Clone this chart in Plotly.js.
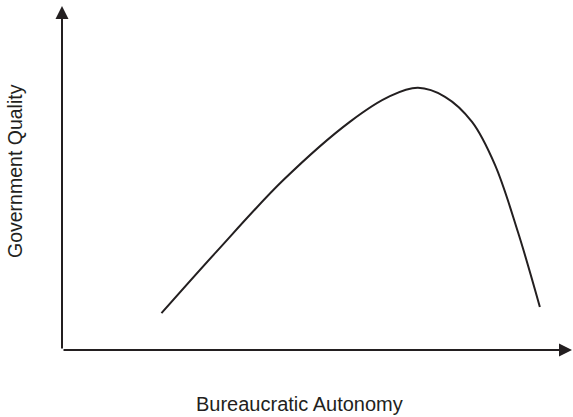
<!DOCTYPE html>
<html>
<head>
<meta charset="utf-8">
<script src="https://cdn.plot.ly/plotly-3.0.1.min.js"></script>
<style>html,body{margin:0;padding:0;background:#fff;}#chart{width:573px;height:417px;}</style>
</head>
<body>
<div id="chart"></div>
<script>
const autonomy = [19.5, 30.3, 43.4, 56.5, 64.3, 69.8, 75.1, 80.4, 84.9, 89.4, 93.7];
const quality  = [10.7, 28.6, 49.4, 66.4, 73.8, 76.2, 73.6, 66.3, 53.8, 34.3, 12.5];
const xTitle = "Bureaucratic Autonomy";
const yTitle = "Government Quality";

const ink = "#231f20";
const trace = {
  x: autonomy, y: quality, mode: "lines", type: "scatter",
  line: {color: ink, width: 2, shape: "spline", smoothing: 1},
  hoverinfo: "skip", cliponaxis: false
};
const layout = {
  width: 573, height: 417,
  margin: {l: 62, r: 1, t: 6, b: 67},
  paper_bgcolor: "#fff", plot_bgcolor: "#fff",
  showlegend: false,
  xaxis: {range: [0, 100], showgrid: false, zeroline: false, showticklabels: false, ticks: "", showline: false, fixedrange: true},
  yaxis: {range: [0, 100], showgrid: false, zeroline: false, showticklabels: false, ticks: "", showline: false, fixedrange: true},
  annotations: [
    {x: 0, y: 100, ax: 0, ay: 0, xref: "x", yref: "y", axref: "x", ayref: "y", text: "", showarrow: true,
     arrowhead: 2, arrowsize: 1.3, arrowwidth: 2, arrowcolor: ink},
    {x: 100, y: 0, ax: 0, ay: 0, xref: "x", yref: "y", axref: "x", ayref: "y", text: "", showarrow: true,
     arrowhead: 2, arrowsize: 1.3, arrowwidth: 2, arrowcolor: ink},
    {text: xTitle, xref: "paper", yref: "paper", x: 0.465, y: 0, yshift: -54, xanchor: "center", yanchor: "middle",
     showarrow: false, font: {family: "Liberation Sans, Arial, sans-serif", size: 20, color: ink}},
    {text: yTitle, xref: "paper", yref: "paper", x: 0, y: 0.5, xshift: -47, yshift: 7, xanchor: "center", yanchor: "middle",
     textangle: -90, showarrow: false, font: {family: "Liberation Sans, Arial, sans-serif", size: 19.5, color: ink}}
  ]
};
Plotly.newPlot("chart", [trace], layout, {displayModeBar: false, staticPlot: true});
</script>
</body>
</html>
